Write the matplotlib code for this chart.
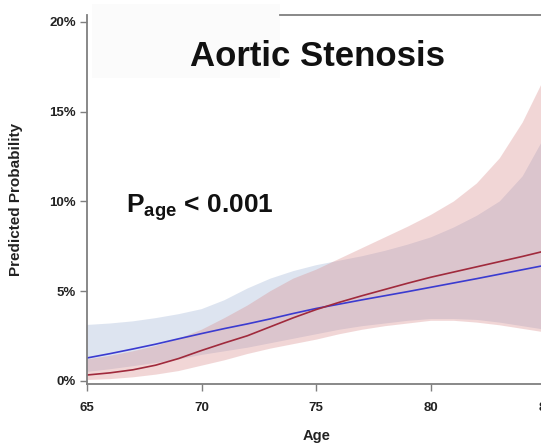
import matplotlib
matplotlib.use('Agg')
from matplotlib import pyplot as plt
from matplotlib.patches import Rectangle

plt.rcParams['font.family'] = ['Liberation Sans', 'DejaVu Sans']
plt.rcParams['mathtext.fontset'] = 'custom'
plt.rcParams['mathtext.bf'] = 'Liberation Sans:bold'
plt.rcParams['mathtext.rm'] = 'Liberation Sans'

# predicted probability (%) by age
ages = list(range(65, 86))
blue_mid = [1.28, 1.52, 1.78, 2.05, 2.35, 2.64, 2.92, 3.18, 3.46, 3.76, 4.04,
            4.28, 4.52, 4.75, 4.98, 5.22, 5.46, 5.70, 5.95, 6.20, 6.45]
blue_hi = [3.12, 3.20, 3.32, 3.50, 3.72, 4.00, 4.50, 5.15, 5.70, 6.12, 6.45,
           6.70, 6.95, 7.25, 7.60, 8.00, 8.55, 9.20, 10.0, 11.4, 13.7]
blue_lo = [0.50, 0.65, 0.82, 1.00, 1.20, 1.45, 1.65, 1.85, 2.10, 2.35, 2.60,
           2.85, 3.05, 3.20, 3.35, 3.45, 3.45, 3.40, 3.25, 3.05, 2.85]
red_mid = [0.33, 0.45, 0.62, 0.88, 1.25, 1.70, 2.12, 2.52, 3.02, 3.52, 3.98,
           4.38, 4.75, 5.10, 5.45, 5.78, 6.07, 6.36, 6.65, 6.94, 7.25]
red_hi = [1.20, 1.40, 1.65, 1.95, 2.35, 2.85, 3.50, 4.20, 5.00, 5.70, 6.20,
          6.80, 7.40, 8.00, 8.60, 9.25, 10.0, 11.0, 12.4, 14.4, 17.0]
red_lo = [0.05, 0.10, 0.20, 0.35, 0.55, 0.85, 1.15, 1.50, 1.80, 2.05, 2.30,
          2.60, 2.85, 3.05, 3.20, 3.35, 3.35, 3.25, 3.10, 2.90, 2.70]

x_ticks = [65, 70, 75, 80, 85]
y_ticks = [0, 5, 10, 15, 20]
y_labels = ['0%', '5%', '10%', '15%', '20%']

fig = plt.figure(figsize=(5.41, 4.45), dpi=100)
ax = fig.add_axes([0.1608, 0.1371, 0.8477, 0.8292])

ax.fill_between(ages, blue_lo, blue_hi, facecolor='#9fb3d6', alpha=0.35, lw=0)
ax.fill_between(ages, red_lo, red_hi, facecolor='#d98c8c', alpha=0.35, lw=0)
ax.plot(ages, blue_mid, c='#3b3bd0', lw=1.2)
ax.plot(ages, red_mid, c='#a02a3c', lw=1.2)

ax.set_xlim(65, 85)
ax.set_ylim(-0.17, 20.39)

# faint box behind the title hides part of the top frame
ax.add_patch(Rectangle((0.01, 0.83), 0.41, 0.2, transform=ax.transAxes,
                       facecolor='#fbfbfb', edgecolor='none', clip_on=False, zorder=0))

for side in ['left', 'bottom', 'top']:
    ax.spines[side].set_color('#7f7f7f')
    ax.spines[side].set_linewidth(1.3)
ax.spines['right'].set_visible(False)
ax.spines['top'].set_bounds(73.4, 85)

ax.set_xticks(x_ticks)
ax.set_yticks(y_ticks)
ax.set_yticklabels(y_labels)
ax.tick_params(axis='both', direction='out', length=5, width=1, color='#7f7f7f',
               labelsize=9.5, labelcolor='#222222')
ax.tick_params(axis='x', pad=8)
ax.tick_params(axis='y', pad=3)
for lbl in ax.get_xticklabels() + ax.get_yticklabels():
    lbl.set_fontweight('bold')

ax.set_xlabel('Age', fontsize=10.5, fontweight='bold', color='#222222', labelpad=11)
ax.set_ylabel('Predicted Probability', fontsize=11, fontweight='bold',
              color='#222222', labelpad=19)

ax.text(75.06, 17.56, 'Aortic Stenosis', fontsize=25, fontweight='bold',
        ha='center', va='baseline', color='#111111')
ax.text(66.7, 9.36, r'$\mathbf{P}_{\mathbf{age}}$ < 0.001', fontsize=19,
        fontweight='bold', ha='left', va='baseline', color='#111111')

plt.savefig('out.png', dpi=100)
